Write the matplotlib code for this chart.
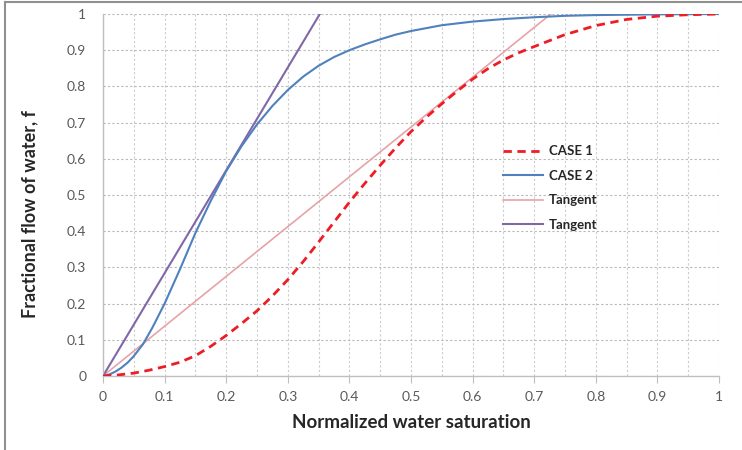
import matplotlib
matplotlib.use("Agg")
import matplotlib.pyplot as plt
from matplotlib.lines import Line2D
from matplotlib.ticker import MultipleLocator, FuncFormatter

plt.rcParams['font.family'] = ['Lato', 'DejaVu Sans']

# Data
sw1 = [0.0, 0.025, 0.05, 0.075, 0.1, 0.125, 0.15, 0.175, 0.2, 0.225, 0.25, 0.275, 0.3, 0.325,
       0.35, 0.375, 0.4, 0.425, 0.45, 0.475, 0.5, 0.525, 0.55, 0.575, 0.6, 0.625, 0.65, 0.675,
       0.7, 0.75, 0.8, 0.85, 0.9, 0.95, 1.0]
case1 = [0.0, 0.003, 0.008, 0.016, 0.026, 0.038, 0.056, 0.082, 0.112, 0.145, 0.18, 0.221, 0.266, 0.316,
         0.37, 0.425, 0.48, 0.532, 0.582, 0.63, 0.675, 0.715, 0.752, 0.787, 0.82, 0.849, 0.873, 0.893,
         0.91, 0.943, 0.968, 0.985, 0.994, 0.998, 1.0]
sw2 = [0.0, 0.01, 0.02, 0.03, 0.04, 0.05, 0.065, 0.08, 0.1, 0.125, 0.15, 0.175, 0.2, 0.225,
       0.25, 0.275, 0.3, 0.325, 0.35, 0.375, 0.4, 0.425, 0.45, 0.475, 0.5, 0.55, 0.6, 0.65,
       0.7, 0.75, 0.8, 0.9, 1.0]
case2 = [0.0, 0.004, 0.012, 0.023, 0.037, 0.055, 0.088, 0.133, 0.2, 0.295, 0.395, 0.484, 0.566, 0.635,
         0.695, 0.746, 0.79, 0.827, 0.857, 0.881, 0.9, 0.916, 0.93, 0.943, 0.953, 0.969, 0.979, 0.986,
         0.991, 0.995, 0.997, 0.999, 1.0]
tangent1_x = [0.0, 0.727]
tangent1_y = [0.0, 1.0]
tangent2_x = [0.0, 0.352]
tangent2_y = [0.0, 1.0]

fig = plt.figure(figsize=(7.42, 4.5), dpi=100)
ax = fig.add_axes([103/742, 1-376/450, (719-103)/742, (376-14)/450])

ax.plot(sw1, case1, color="#ee1c24", lw=2.0, ls=(0, (3, 2)), label="CASE 1", zorder=4)
ax.plot(sw2, case2, color="#4f81bd", lw=1.5, label="CASE 2", zorder=3)
ax.plot(tangent1_x, tangent1_y, color="#e6a3a8", lw=1.2, label="Tangent", zorder=2)
ax.plot(tangent2_x, tangent2_y, color="#8068a8", lw=1.5, label="Tangent", zorder=2)

ax.set_xlim(0, 1)
ax.set_ylim(0, 1)
ax.xaxis.set_major_locator(MultipleLocator(0.1))
ax.xaxis.set_minor_locator(MultipleLocator(0.05))
ax.yaxis.set_major_locator(MultipleLocator(0.1))
ax.xaxis.set_major_formatter(FuncFormatter(lambda v, p: f"{v:g}"))
ax.yaxis.set_major_formatter(FuncFormatter(lambda v, p: f"{v:g}"))

ax.grid(True, which="major", axis="y", color="#b8b8b8", ls=(0, (2, 2)), lw=0.8)
ax.grid(True, which="both", axis="x", color="#cccccc", ls=(0, (2, 2)), lw=0.8)
ax.set_axisbelow(True)

for s in ["top", "right"]:
    ax.spines[s].set_visible(False)
for s in ["left", "bottom"]:
    ax.spines[s].set_color("#bfbfbf")
    ax.spines[s].set_linewidth(1.0)

ax.tick_params(axis="x", which="major", length=5, color="#bfbfbf", labelsize=10, labelcolor="#595959", pad=6)
ax.tick_params(axis="x", which="minor", length=0)
ax.tick_params(axis="y", which="major", length=0, labelsize=10, labelcolor="#595959", pad=12)

ax.set_xlabel("Normalized water saturation", fontsize=13.5, fontweight="bold", color="#262626")
ax.xaxis.set_label_coords(0.5, -0.128)
ax.xaxis.label.set_va("center")
ax.set_ylabel("Fractional flow of water, f", fontsize=13, fontweight="bold", color="#262626")
ax.yaxis.set_label_coords(-0.1185, 0.4475)
ax.yaxis.label.set_va("center")

leg = ax.legend(loc="upper left", bbox_to_anchor=(0.63, 0.67), frameon=False,
                fontsize=9.5, handlelength=3.0, labelspacing=0.95, handletextpad=0.5)
for t in leg.get_texts():
    t.set_fontweight("bold")
    t.set_color("#262626")

# figure border (top and left)
fig.add_artist(Line2D([5/742, 5/742], [0, 1-2/450], transform=fig.transFigure, color="#909090", lw=1.5))
fig.add_artist(Line2D([5/742, 1], [1-2/450, 1-2/450], transform=fig.transFigure, color="#909090", lw=1.5))

fig.savefig("out.png", dpi=100)
